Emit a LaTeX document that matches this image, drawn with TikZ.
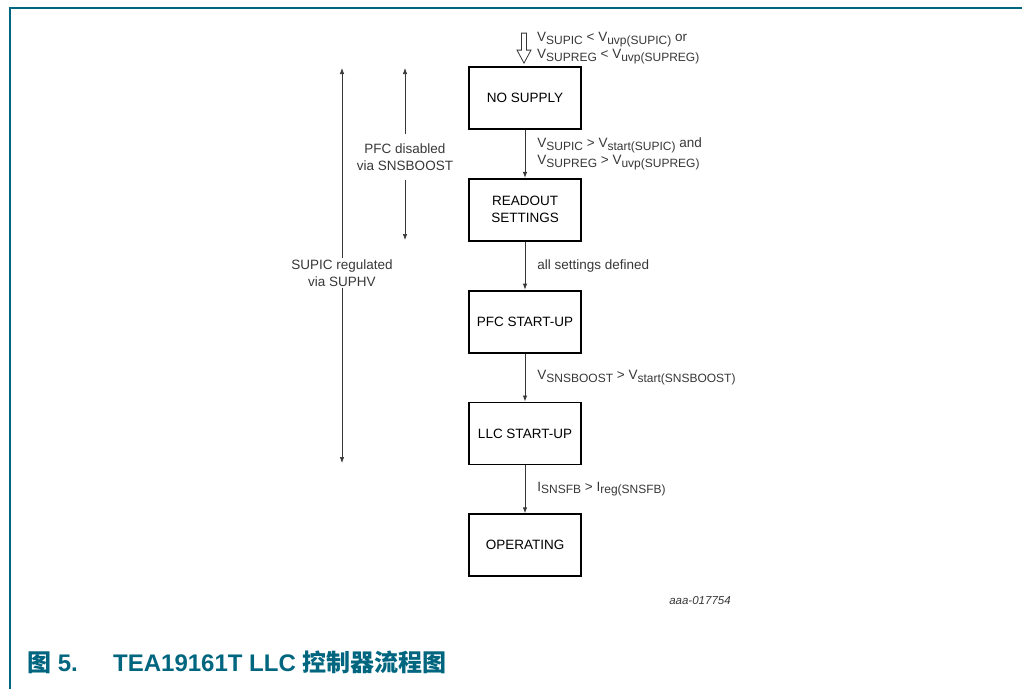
\documentclass[tikz,border=0pt]{standalone}
\usepackage{fontspec}
\setmainfont{Liberation Sans}
\newfontfamily\cjk{Noto Sans CJK SC}
\usetikzlibrary{arrows.meta,positioning}
\definecolor{nxpTeal}{RGB}{0,102,128}
\definecolor{flowGray}{RGB}{55,55,55}
\newcommand{\lowsub}[1]{\raisebox{-0.35ex}{\fontsize{12}{13}\selectfont #1}}

\begin{document}
\begin{tikzpicture}[
  x=1pt,y=1pt,
  state/.style={
    draw,
    line width=1.8pt,
    minimum width=112pt,
    minimum height=62pt,
    align=center,
    font=\fontsize{13.5}{17}\selectfont
  },
  flow/.style={-{Latex[length=6pt,width=4.5pt]},flowGray,line width=0.9pt},
  cond/.style={align=left,inner sep=2pt,text=flowGray,font=\fontsize{13.5}{17}\selectfont},
  span/.style={align=center,inner sep=1pt,text=flowGray,font=\fontsize{13.5}{17}\selectfont},
  entryarrow/.style={draw=flowGray,line width=0.8pt,line join=miter}
]
  \useasboundingbox (0,0) rectangle (1022,-689);
  \draw[nxpTeal,line width=2pt] (10,-689) -- (10,-8) -- (1022,-8);

  % states
  \node[state] (nosupply) at (525,-98) {NO SUPPLY};
  \node[state,below=48pt of nosupply] (readout) {READOUT\\SETTINGS};
  \node[state,below=48pt of readout] (pfcstart) {PFC START-UP};
  \node[state,below=48pt of pfcstart] (llcstart) {LLC START-UP};
  \node[state,below=48pt of llcstart] (operating) {OPERATING};

  % entry
  \coordinate (entry) at ([xshift=-1pt,yshift=3pt]nosupply.north);
  \draw[entryarrow] (entry) -- ++(-7,13) -- ++(4.5,0) -- ++(0,17) -- ++(5,0)
    -- ++(0,-17) -- ++(4.5,0) -- cycle;
  \node[cond,anchor=west] (entrycond) at ([xshift=11pt,yshift=15pt]entry)
    {V\lowsub{SUPIC} < V\lowsub{uvp(SUPIC)} or\\V\lowsub{SUPREG} < V\lowsub{uvp(SUPREG)}};

  \draw[flow] (nosupply) -- node[cond,right=10pt]
    {V\lowsub{SUPIC} > V\lowsub{start(SUPIC)} and\\V\lowsub{SUPREG} > V\lowsub{uvp(SUPREG)}} (readout);
  \draw[flow] (readout) -- node[cond,right=10pt]{all settings defined} (pfcstart);
  \draw[flow] (pfcstart) -- node[cond,right=10pt]
    {V\lowsub{SNSBOOST} > V\lowsub{start(SNSBOOST)}} (llcstart);
  \draw[flow] (llcstart) -- node[cond,right=10pt]
    {I\lowsub{SNSFB} > I\lowsub{reg(SNSFB)}} (operating);

  % supply ranges
  \coordinate (suptop) at (342,-68);
  \coordinate (supbot) at (342,-463);
  \node[span] (suplbl) at (342,-273) {SUPIC regulated\\via SUPHV};
  \draw[flow,line width=0.7pt] (suplbl) -- (suptop);
  \draw[flow,line width=0.7pt] (suplbl) -- (supbot);

  \coordinate (pfctop) at (405,-68);
  \coordinate (pfcbot) at (405,-240);
  \node[span,inner sep=9pt] (pfclbl) at (405,-157) {PFC disabled\\via SNSBOOST};
  \draw[flow,line width=0.7pt] (pfclbl) -- (pfctop);
  \draw[flow,line width=0.7pt] (pfclbl) -- (pfcbot);

  \node[font=\itshape\fontsize{11.5}{13}\selectfont,text=flowGray] (docid) at (700,-601) {aaa-017754};

  % caption
  \node[anchor=base west,inner sep=0pt,text=nxpTeal,font=\bfseries\fontsize{24}{27}\selectfont]
    (fignum) at (27,-671) {{\cjk 图} 5.};
  \node[anchor=base west,inner sep=0pt,text=nxpTeal,font=\bfseries\fontsize{24}{27}\selectfont]
    (figtitle) at (113,-671) {TEA19161T LLC {\cjk 控制器流程图}};
\end{tikzpicture}
\end{document}
